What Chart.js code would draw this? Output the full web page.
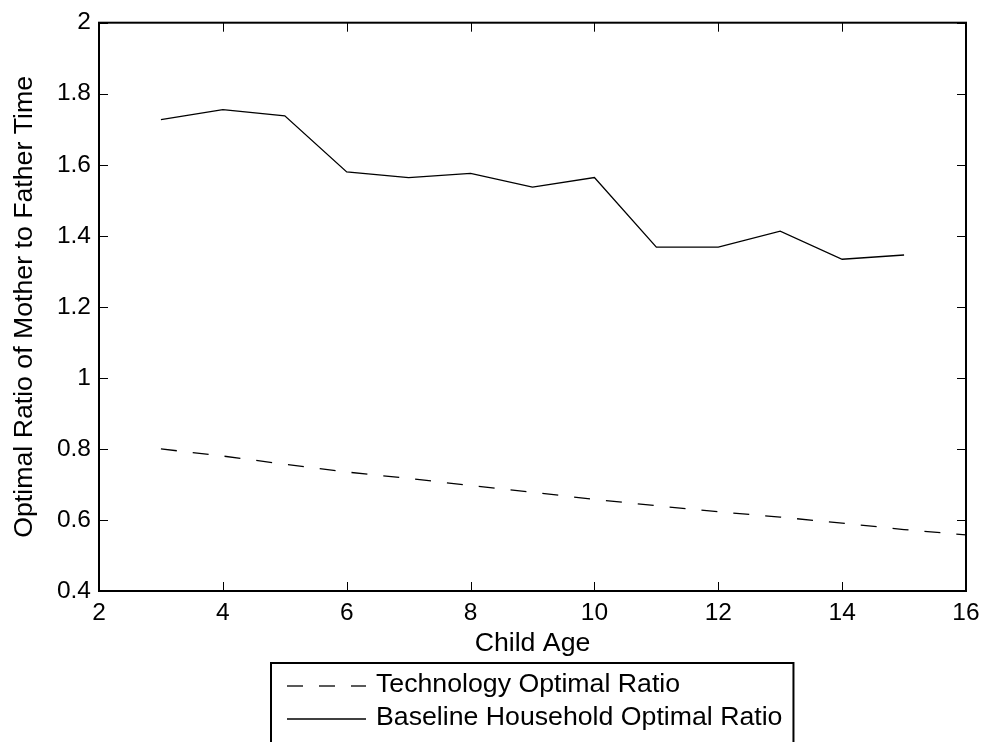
<!DOCTYPE html>
<html lang="en">
<head>
  <meta charset="UTF-8">
  <title>Optimal Ratio of Mother to Father Time</title>
  <style>
    html, body { margin: 0; padding: 0; background: #fff; }
    .chart-box { width: 989px; height: 742px; }
  </style>
</head>
<body>
  <div class="chart-box"><canvas id="ratio-chart" width="989" height="742"></canvas></div>
  <script src="https://cdn.jsdelivr.net/npm/chart.js"></script>
  <script>
    // data
    const childAge = [3, 4, 5, 6, 7, 8, 9, 10, 11, 12, 13, 14, 15];
    const baselineRatio = [1.727, 1.755, 1.738, 1.580, 1.564, 1.576, 1.537, 1.564, 1.368, 1.368, 1.413, 1.334, 1.346];
    const techAge = [3, 4, 5, 6, 7, 8, 9, 10, 11, 12, 13, 14, 15, 16];
    const techRatio = [0.800, 0.780, 0.757, 0.735, 0.717, 0.697, 0.678, 0.658, 0.640, 0.623, 0.608, 0.591, 0.573, 0.558];
    const xTicks = [2, 4, 6, 8, 10, 12, 14, 16];
    const yTicks = [0.4, 0.6, 0.8, 1, 1.2, 1.4, 1.6, 1.8, 2];

    const FONT = "'Liberation Sans', Arial, Helvetica, sans-serif";

    // box, inward ticks on all sides and the boxed legend under the axis
    const frameAndLegend = {
      id: 'frameAndLegend',
      afterDraw(chart) {
        const { ctx, chartArea: a, scales: { x, y } } = chart;
        ctx.save();
        ctx.strokeStyle = '#000';
        ctx.lineWidth = 1;
        ctx.beginPath();
        x.ticks.forEach(t => {
          const px = Math.round(x.getPixelForValue(t.value)) + 0.5;
          ctx.moveTo(px, a.bottom); ctx.lineTo(px, a.bottom - 9);
          ctx.moveTo(px, a.top); ctx.lineTo(px, a.top + 9);
        });
        y.ticks.forEach(t => {
          const py = Math.round(y.getPixelForValue(t.value)) + 0.5;
          ctx.moveTo(a.left, py); ctx.lineTo(a.left + 9, py);
          ctx.moveTo(a.right, py); ctx.lineTo(a.right - 9, py);
        });
        ctx.stroke();
        ctx.lineWidth = 2;
        ctx.strokeRect(a.left, a.top, a.right - a.left, a.bottom - a.top);

        // legend
        ctx.font = '26.7px ' + FONT;
        const sets = chart.data.datasets;
        const textW = Math.max(...sets.map(d => ctx.measureText(d.label).width));
        const w = 16 + 79 + 10 + textW + 11;
        const left = Math.round((a.left + a.right) / 2 - w / 2);
        const top = a.bottom + 72;
        ctx.lineWidth = 2;
        ctx.strokeRect(left, top, w, 120);
        sets.forEach((d, i) => {
          const rowY = top + 23 + i * 33;
          ctx.lineWidth = d.borderWidth;
          ctx.setLineDash(d.borderDash || []);
          ctx.beginPath();
          ctx.moveTo(left + 16, rowY);
          ctx.lineTo(left + 95, rowY);
          ctx.stroke();
          ctx.setLineDash([]);
          ctx.fillStyle = '#000';
          ctx.textBaseline = 'middle';
          ctx.textAlign = 'left';
          ctx.fillText(d.label, left + 105, rowY - 1);
        });
        ctx.restore();
      }
    };

    new Chart(document.getElementById('ratio-chart'), {
      type: 'line',
      data: {
        datasets: [{
          label: 'Technology Optimal Ratio',
          data: techAge.map((a, i) => ({ x: a, y: techRatio[i] })),
          borderColor: '#000',
          borderWidth: 1.3,
          borderDash: [16, 16],
          pointRadius: 0,
          tension: 0
        }, {
          label: 'Baseline Household Optimal Ratio',
          data: childAge.map((a, i) => ({ x: a, y: baselineRatio[i] })),
          borderColor: '#000',
          borderWidth: 1.3,
          pointRadius: 0,
          tension: 0
        }]
      },
      options: {
        responsive: false,
        animation: false,
        devicePixelRatio: 1,
        layout: { padding: { top: 19, right: 23, bottom: 82, left: 0 } },
        plugins: { legend: { display: false }, tooltip: { enabled: false } },
        scales: {
          x: {
            type: 'linear', min: 2, max: 16,
            afterBuildTicks: s => { s.ticks = xTicks.map(v => ({ value: v })); },
            afterFit: s => { s.height = 69; },
            grid: { display: false, drawTicks: false },
            border: { display: false },
            ticks: { color: '#000', padding: 8, maxRotation: 0, font: { family: FONT, size: 24.5 } },
            title: { display: true, text: 'Child Age', color: '#000', padding: { top: 0, bottom: 0 }, font: { family: FONT, size: 26.7 } }
          },
          y: {
            type: 'linear', min: 0.4, max: 2,
            afterBuildTicks: s => { s.ticks = yTicks.map(v => ({ value: v })); },
            afterFit: s => { s.width = 99; },
            grid: { display: false, drawTicks: false },
            border: { display: false },
            ticks: { color: '#000', padding: 8, font: { family: FONT, size: 24.5 }, callback: v => String(+v.toFixed(1)) },
            title: { display: true, text: 'Optimal Ratio of Mother to Father Time', color: '#000', padding: { top: 9, bottom: 0 }, font: { family: FONT, size: 26.7 } }
          }
        }
      },
      plugins: [frameAndLegend]
    });
  </script>
</body>
</html>
